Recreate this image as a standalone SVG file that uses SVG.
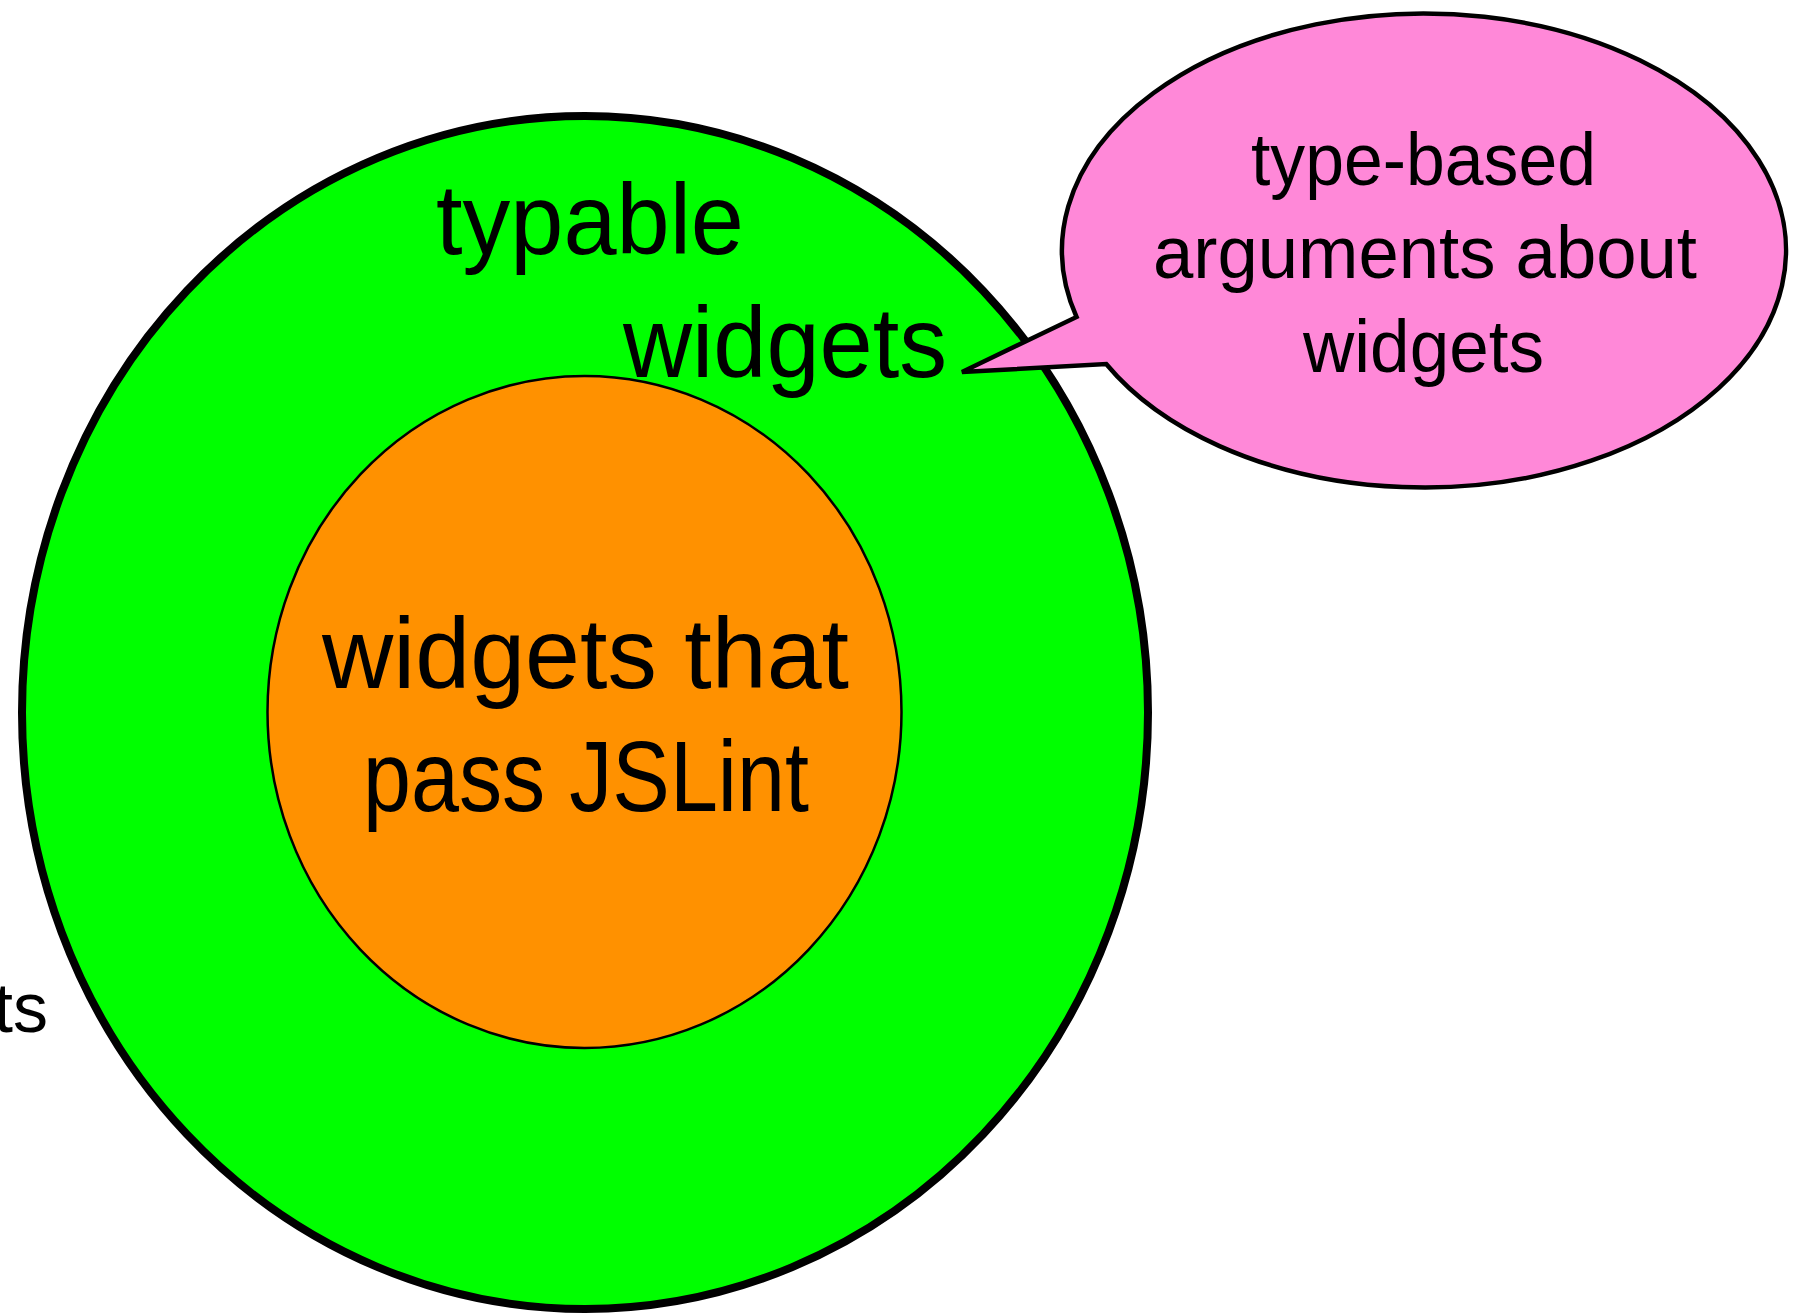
<svg xmlns="http://www.w3.org/2000/svg" width="1802" height="1314" viewBox="0 0 1802 1314">
<style>
.t{font-family:"Liberation Sans","Open Sans",sans-serif;fill:#000}
.big{font-size:100px}
.mid{font-size:75px}
</style>
<rect width="1802" height="1314" fill="#fff"/>
<g id="outside-label">
<text class="t" x="48" y="1032" font-size="70" text-anchor="end">ts</text>
</g>
<g id="typable">
<ellipse cx="585" cy="712.5" rx="563" ry="596.5" fill="#00ff00" stroke="#000" stroke-width="8"/>
<text class="t big" x="436" y="254" textLength="308" lengthAdjust="spacingAndGlyphs">typable</text>
<text class="t big" x="623" y="377" textLength="324" lengthAdjust="spacingAndGlyphs">widgets</text>
</g>
<g id="jslint">
<ellipse cx="584.5" cy="712" rx="317" ry="336" fill="#ff9100" stroke="#000" stroke-width="2.5"/>
<text class="t big" x="322" y="688" textLength="527" lengthAdjust="spacingAndGlyphs">widgets that</text>
<text class="t big" x="363" y="811" textLength="446" lengthAdjust="spacingAndGlyphs">pass JSLint</text>
</g>
<g id="callout">
<path d="M 1076.54 317 A 362 237 0 1 1 1106.21 364 L 962 372 Z" fill="#ff88d8" stroke="#000" stroke-width="4.5" stroke-linejoin="miter"/>
<text class="t mid" x="1251" y="185" textLength="345" lengthAdjust="spacingAndGlyphs">type-based</text>
<text class="t mid" x="1153" y="278" textLength="544" lengthAdjust="spacingAndGlyphs">arguments about</text>
<text class="t mid" x="1303" y="372" textLength="241" lengthAdjust="spacingAndGlyphs">widgets</text>
</g>
<g id="connectors"></g>
</svg>
